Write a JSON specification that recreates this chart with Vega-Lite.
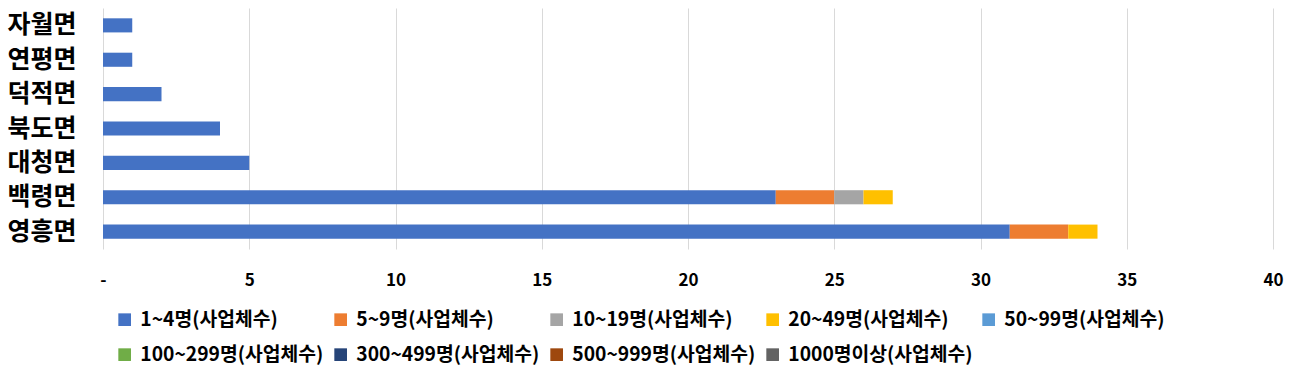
{
  "$schema": "https://vega.github.io/schema/vega-lite/v6.json",
  "width": 1170,
  "height": 241,
  "autosize": {"type": "none"},
  "padding": {"left": 103, "top": 8, "right": 31, "bottom": 129},
  "background": "white",
  "config": {
    "font": "Noto Sans CJK KR",
    "view": {"stroke": null}
  },
  "data": {
    "values": [
      {"area": "자월면", "size": "1~4명(사업체수)", "count": 1},
      {"area": "연평면", "size": "1~4명(사업체수)", "count": 1},
      {"area": "덕적면", "size": "1~4명(사업체수)", "count": 2},
      {"area": "북도면", "size": "1~4명(사업체수)", "count": 4},
      {"area": "대청면", "size": "1~4명(사업체수)", "count": 5},
      {"area": "백령면", "size": "1~4명(사업체수)", "count": 23},
      {"area": "백령면", "size": "5~9명(사업체수)", "count": 2},
      {"area": "백령면", "size": "10~19명(사업체수)", "count": 1},
      {"area": "백령면", "size": "20~49명(사업체수)", "count": 1},
      {"area": "영흥면", "size": "1~4명(사업체수)", "count": 31},
      {"area": "영흥면", "size": "5~9명(사업체수)", "count": 2},
      {"area": "영흥면", "size": "20~49명(사업체수)", "count": 1}
    ]
  },
  "transform": [
    {"calculate": "indexof(['1~4명(사업체수)','5~9명(사업체수)','10~19명(사업체수)','20~49명(사업체수)','50~99명(사업체수)','100~299명(사업체수)','300~499명(사업체수)','500~999명(사업체수)','1000명이상(사업체수)'], datum.size)", "as": "ord"}
  ],
  "mark": {"type": "bar"},
  "encoding": {
    "y": {
      "field": "area",
      "type": "nominal",
      "sort": ["자월면", "연평면", "덕적면", "북도면", "대청면", "백령면", "영흥면"],
      "scale": {"paddingInner": 0.59, "paddingOuter": 0.3},
      "axis": {
        "title": null,
        "ticks": false,
        "domain": false,
        "labelFontSize": 25,
        "labelFontWeight": "bold",
        "labelColor": "#000000",
        "labelPadding": 27
      }
    },
    "x": {
      "field": "count",
      "type": "quantitative",
      "stack": "zero",
      "scale": {"domain": [0, 40], "nice": false},
      "axis": {
        "title": null,
        "values": [0, 5, 10, 15, 20, 25, 30, 35, 40],
        "labelExpr": "datum.value == 0 ? '-' : datum.label",
        "labelFlush": false,
        "ticks": false,
        "domain": false,
        "grid": true,
        "gridColor": "#d9d9d9",
        "gridWidth": 1,
        "labelFontSize": 17,
        "labelFontWeight": "bold",
        "labelColor": "#000000",
        "labelPadding": 23
      }
    },
    "color": {
      "field": "size",
      "type": "nominal",
      "scale": {
        "domain": ["1~4명(사업체수)", "5~9명(사업체수)", "10~19명(사업체수)", "20~49명(사업체수)", "50~99명(사업체수)", "100~299명(사업체수)", "300~499명(사업체수)", "500~999명(사업체수)", "1000명이상(사업체수)"],
        "range": ["#4472C4", "#ED7D31", "#A5A5A5", "#FFC000", "#5B9BD5", "#70AD47", "#264478", "#9E480E", "#636363"]
      },
      "legend": {
        "title": null,
        "orient": "none",
        "legendX": 12,
        "legendY": 302,
        "direction": "horizontal",
        "columns": 5,
        "gridAlign": "all",
        "symbolType": "square",
        "symbolSize": 160,
        "symbolStrokeWidth": 0,
        "symbolOpacity": 1,
        "labelFontSize": 19.3,
        "labelFontWeight": "bold",
        "labelColor": "#000000",
        "labelLimit": 300,
        "columnPadding": 6,
        "rowPadding": 15,
        "labelOffset": 6
      }
    },
    "order": {"field": "ord", "type": "quantitative"}
  }
}
